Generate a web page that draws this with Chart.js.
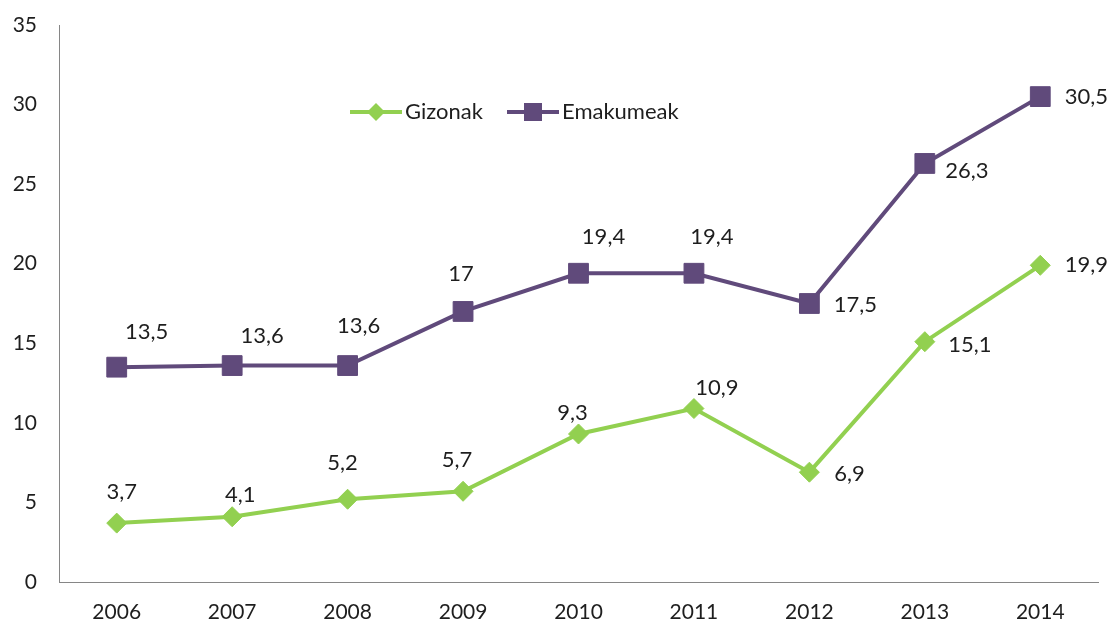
<!DOCTYPE html>
<html><head><meta charset="utf-8">
<script src="https://cdn.jsdelivr.net/npm/chart.js@4.4.0/dist/chart.umd.min.js"></script>
<style>html,body{margin:0;padding:0;background:#fff}</style>
</head><body>
<canvas id="c" width="1113" height="625"></canvas>
<script>
const years = ['2006','2007','2008','2009','2010','2011','2012','2013','2014'];
const gizonak = [3.7, 4.1, 5.2, 5.7, 9.3, 10.9, 6.9, 15.1, 19.9];
const emakumeak = [13.5, 13.6, 13.6, 17, 19.4, 19.4, 17.5, 26.3, 30.5];
const yTicks = [0, 5, 10, 15, 20, 25, 30, 35];
const seriesNames = ['Gizonak', 'Emakumeak'];

const GREEN = '#92D050';
const PURPLE = '#604A7B';
const TEXT = '#1e1e1e';
const FONT = 'Lato, "Open Sans", sans-serif';

// label placement (pixel offsets from each point)
const labelOffsets = [
  [[5,-31],[8,-22],[-5,-36],[-6,-31],[-6,-21],[23,-21],[40,2],[45,3],[46,0]],
  [[30,-35],[30,-30],[11,-40],[-2,-38],[25,-36],[18,-36],[46,1],[42,7],[46,0]]
];

function fmt(v){ return String(v).replace('.', ','); }

function diamond(ctx, x, y, r){
  ctx.beginPath();
  ctx.moveTo(x, y - r); ctx.lineTo(x + r, y); ctx.lineTo(x, y + r); ctx.lineTo(x - r, y);
  ctx.closePath(); ctx.fill();
}

const labelsPlugin = {
  id: 'labelsAndLegend',
  afterDatasetsDraw(chart){
    const ctx = chart.ctx;
    ctx.save();
    ctx.font = '22px ' + FONT;
    ctx.fillStyle = TEXT;
    ctx.textAlign = 'center';
    ctx.textBaseline = 'middle';
    chart.data.datasets.forEach((ds, di) => {
      const meta = chart.getDatasetMeta(di);
      meta.data.forEach((pt, i) => {
        const off = labelOffsets[di][i];
        ctx.fillText(fmt(ds.data[i]), pt.x + off[0], pt.y + off[1]);
      });
    });
    // legend
    const ly = 112;
    const items = [
      {x: 350, color: GREEN, shape: 'd'},
      {x: 507, color: PURPLE, shape: 's'}
    ];
    items.forEach((it, k) => {
      ctx.strokeStyle = it.color; ctx.lineWidth = 4;
      ctx.beginPath(); ctx.moveTo(it.x, ly); ctx.lineTo(it.x + 52, ly); ctx.stroke();
      ctx.fillStyle = it.color;
      if (it.shape === 'd') diamond(ctx, it.x + 26, ly, 9);
      else ctx.fillRect(it.x + 26 - 9, ly - 9, 18, 18);
      ctx.fillStyle = TEXT;
      ctx.textAlign = 'left';
      ctx.fillText(seriesNames[k], it.x + 55, ly);
    });
    ctx.restore();
  }
};

new Chart(document.getElementById('c'), {
  type: 'line',
  data: {
    labels: years,
    datasets: [
      {
        label: seriesNames[0], data: gizonak,
        borderColor: GREEN, backgroundColor: GREEN, borderWidth: 4,
        pointStyle: 'rectRot', pointRadius: 10, pointHoverRadius: 10,
        pointBackgroundColor: GREEN, pointBorderColor: GREEN, pointBorderWidth: 1,
        tension: 0, fill: false
      },
      {
        label: seriesNames[1], data: emakumeak,
        borderColor: PURPLE, backgroundColor: PURPLE, borderWidth: 4,
        pointStyle: 'rect', pointRadius: 14, pointHoverRadius: 14,
        pointBackgroundColor: PURPLE, pointBorderColor: PURPLE, pointBorderWidth: 1,
        tension: 0, fill: false
      }
    ]
  },
  options: {
    responsive: false,
    animation: false,
    events: [],
    layout: { padding: { top: 25, right: 13, left: 0, bottom: 0 } },
    plugins: { legend: { display: false }, tooltip: { enabled: false } },
    scales: {
      x: {
        offset: true,
        grid: { display: true, drawOnChartArea: false, drawTicks: false },
        border: { display: true, color: '#868686', width: 1 },
        ticks: { padding: 18, color: TEXT, font: { family: FONT, size: 21 } },
        afterFit(scale){ scale.height = 43; scale.paddingLeft = 0; scale.paddingRight = 0; }
      },
      y: {
        min: 0, max: 35,
        afterBuildTicks(scale){ scale.ticks = yTicks.map(v => ({ value: v })); },
        grid: { display: true, drawOnChartArea: false, drawTicks: false },
        border: { display: true, color: '#868686', width: 1 },
        ticks: { padding: 22, color: TEXT, font: { family: FONT, size: 21 } },
        afterFit(scale){ scale.width = 59; scale.paddingTop = 0; scale.paddingBottom = 0; }
      }
    }
  },
  plugins: [labelsPlugin]
});
</script>
</body></html>
